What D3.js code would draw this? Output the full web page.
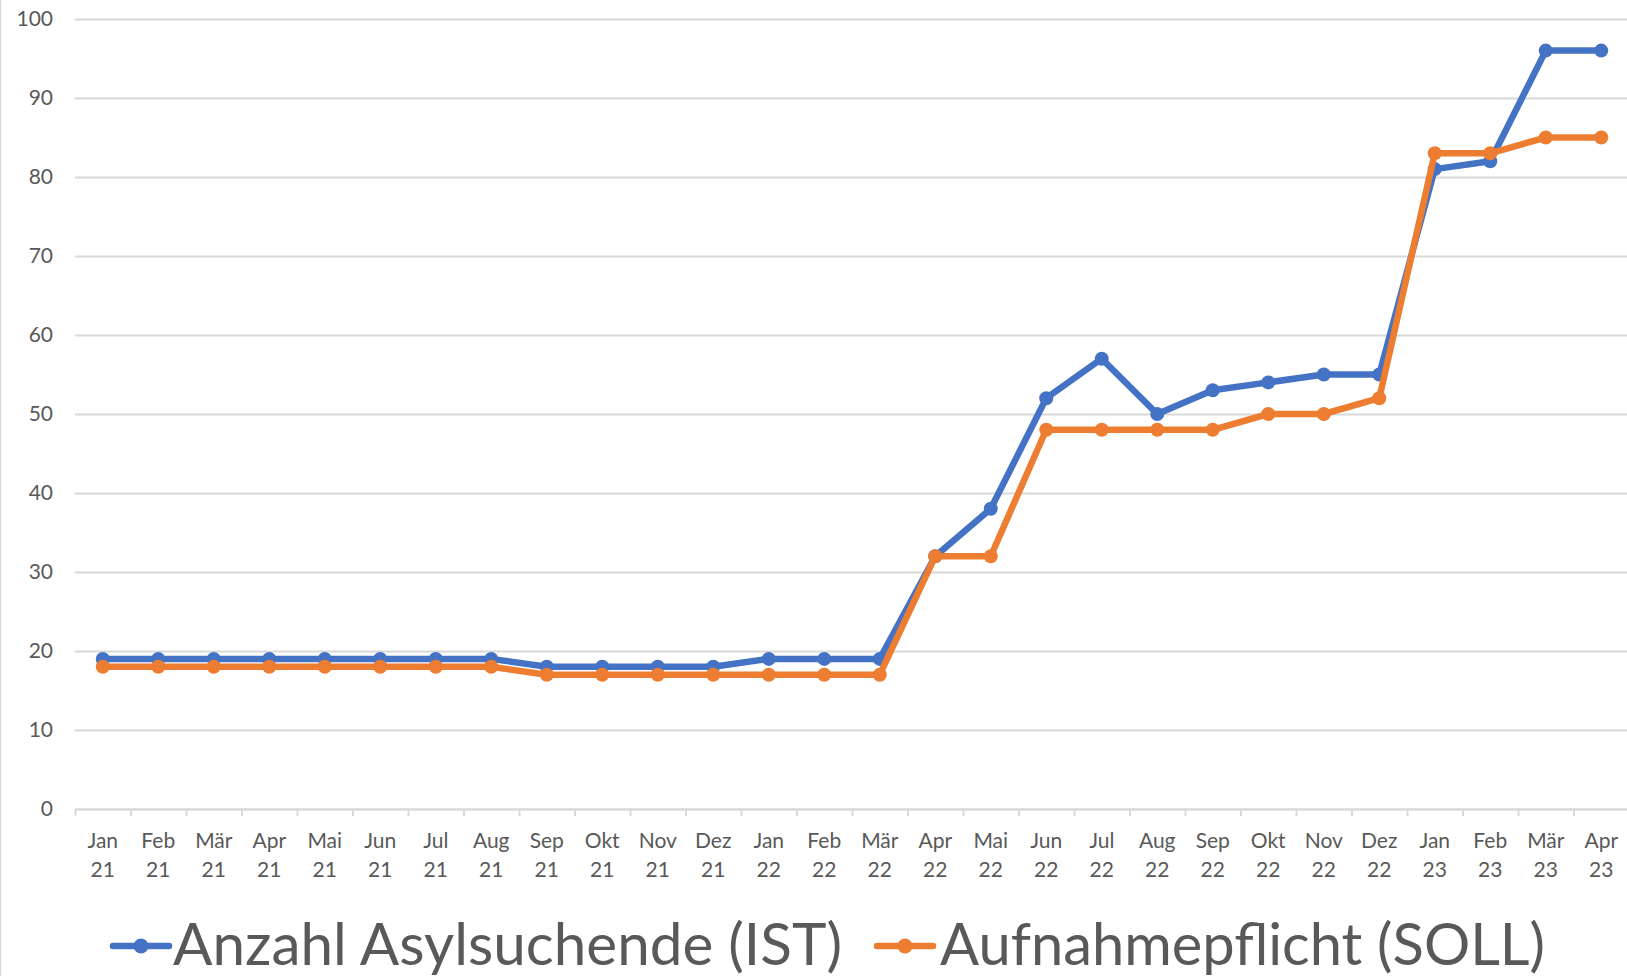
<!DOCTYPE html>
<html>
<head>
<meta charset="utf-8">
<script src="https://cdn.jsdelivr.net/npm/d3@7"></script>
<style>
  body { margin: 0; background: #fff; }
  svg text { font-family: Lato, "Open Sans", sans-serif; fill: #595959; }
</style>
</head>
<body>
<svg id="chart"></svg>
<script>
// month labels (two lines: month / year)
const months = ['Jan', 'Feb', 'Mär', 'Apr', 'Mai', 'Jun', 'Jul', 'Aug', 'Sep', 'Okt', 'Nov', 'Dez',
  'Jan', 'Feb', 'Mär', 'Apr', 'Mai', 'Jun', 'Jul', 'Aug', 'Sep', 'Okt', 'Nov', 'Dez',
  'Jan', 'Feb', 'Mär', 'Apr'];
const years = ['21', '21', '21', '21', '21', '21', '21', '21', '21', '21', '21', '21',
  '22', '22', '22', '22', '22', '22', '22', '22', '22', '22', '22', '22',
  '23', '23', '23', '23'];
const istValues = [19, 19, 19, 19, 19, 19, 19, 19, 18, 18, 18, 18,
  19, 19, 19, 32, 38, 52, 57, 50, 53, 54, 55, 55,
  81, 82, 96, 96];
const sollValues = [18, 18, 18, 18, 18, 18, 18, 18, 17, 17, 17, 17,
  17, 17, 17, 32, 32, 48, 48, 48, 48, 50, 50, 52,
  83, 83, 85, 85];
const yTicks = [0, 10, 20, 30, 40, 50, 60, 70, 80, 90, 100];
const seriesNames = ['Anzahl Asylsuchende (IST)', 'Aufnahmepflicht (SOLL)'];
const seriesColors = ['#4472C4', '#ED7D31'];

const width = 1627;
const height = 976;
const plot = { left: 75, right: 1629, top: 19, bottom: 809 };

const svg = d3.select('#chart')
  .attr('width', width)
  .attr('height', height);

const keys = months.map((m, i) => i);

const x = d3.scaleBand().domain(keys).range([plot.left, plot.right]).padding(0);
const y = d3.scaleLinear().domain([0, 100]).range([plot.bottom, plot.top]);

// outer border on the left
svg.append('line')
  .attr('x1', 0.5).attr('x2', 0.5)
  .attr('y1', 0).attr('y2', height)
  .attr('stroke', '#d9d9d9')
  .attr('stroke-width', 1.5);

// gridlines + y labels
const yAxis = svg.append('g')
  .attr('transform', 'translate(' + plot.left + ',0)')
  .call(d3.axisLeft(y).tickValues(yTicks)
    .tickSizeInner(-(width - plot.left))
    .tickSizeOuter(0)
    .tickPadding(22));
yAxis.select('.domain').remove();
yAxis.selectAll('.tick line')
  .attr('stroke', '#d9d9d9')
  .attr('stroke-width', 2);
yAxis.selectAll('.tick text')
  .style('font-size', '21px')
  .style('font-family', 'Lato, sans-serif')
  .attr('fill', '#595959');

// x axis line with ticks between categories
const xEdges = d3.scaleLinear().domain([0, keys.length]).range([plot.left, plot.right]);
const xTickAxis = svg.append('g')
  .attr('transform', 'translate(0,' + plot.bottom + ')')
  .call(d3.axisBottom(xEdges).ticks(keys.length).tickSizeInner(7).tickSizeOuter(0).tickFormat(''));
xTickAxis.select('.domain').attr('stroke', '#d9d9d9').attr('stroke-width', 2);
xTickAxis.selectAll('.tick line').attr('stroke', '#d9d9d9').attr('stroke-width', 2);

// category labels
const xAxis = svg.append('g')
  .attr('transform', 'translate(0,' + plot.bottom + ')')
  .call(d3.axisBottom(x).tickSize(0).tickFormat(''));
xAxis.select('.domain').remove();
xAxis.selectAll('.tick').each(function (d) {
  const t = d3.select(this).append('text')
    .attr('text-anchor', 'middle')
    .style('font-size', '21px')
    .attr('fill', '#595959');
  t.append('tspan').attr('x', 0).attr('y', 39).text(months[d]);
  t.append('tspan').attr('x', 0).attr('y', 68).text(years[d]);
});

// series
const series = [istValues, sollValues];
const line = d3.line()
  .x((d, i) => x(i) + x.bandwidth() / 2)
  .y(d => y(d));

series.forEach((vals, s) => {
  const g = svg.append('g').attr('class', 'series');
  g.append('path')
    .datum(vals)
    .attr('fill', 'none')
    .attr('stroke', seriesColors[s])
    .attr('stroke-width', 6.5)
    .attr('stroke-linejoin', 'round')
    .attr('d', line);
  g.selectAll('circle')
    .data(vals)
    .enter().append('circle')
    .attr('cx', (d, i) => x(i) + x.bandwidth() / 2)
    .attr('cy', d => y(d))
    .attr('r', 7)
    .attr('fill', seriesColors[s]);
});

// legend
const legendItems = [
  { x: 113, textX: 173, textW: 669 },
  { x: 877, textX: 940, textW: 605 }
];
const legendY = 946;
legendItems.forEach((item, s) => {
  const g = svg.append('g').attr('class', 'legend');
  g.append('line')
    .attr('x1', item.x).attr('x2', item.x + 56)
    .attr('y1', legendY).attr('y2', legendY)
    .attr('stroke', seriesColors[s])
    .attr('stroke-width', 6.5)
    .attr('stroke-linecap', 'round');
  g.append('circle')
    .attr('cx', item.x + 28).attr('cy', legendY)
    .attr('r', 7.5)
    .attr('fill', seriesColors[s]);
  g.append('text')
    .attr('x', item.textX)
    .attr('y', 965)
    .attr('textLength', item.textW)
    .attr('lengthAdjust', 'spacingAndGlyphs')
    .style('font-size', '58px')
    .attr('fill', '#595959')
    .text(seriesNames[s]);
});
</script>
</body>
</html>
